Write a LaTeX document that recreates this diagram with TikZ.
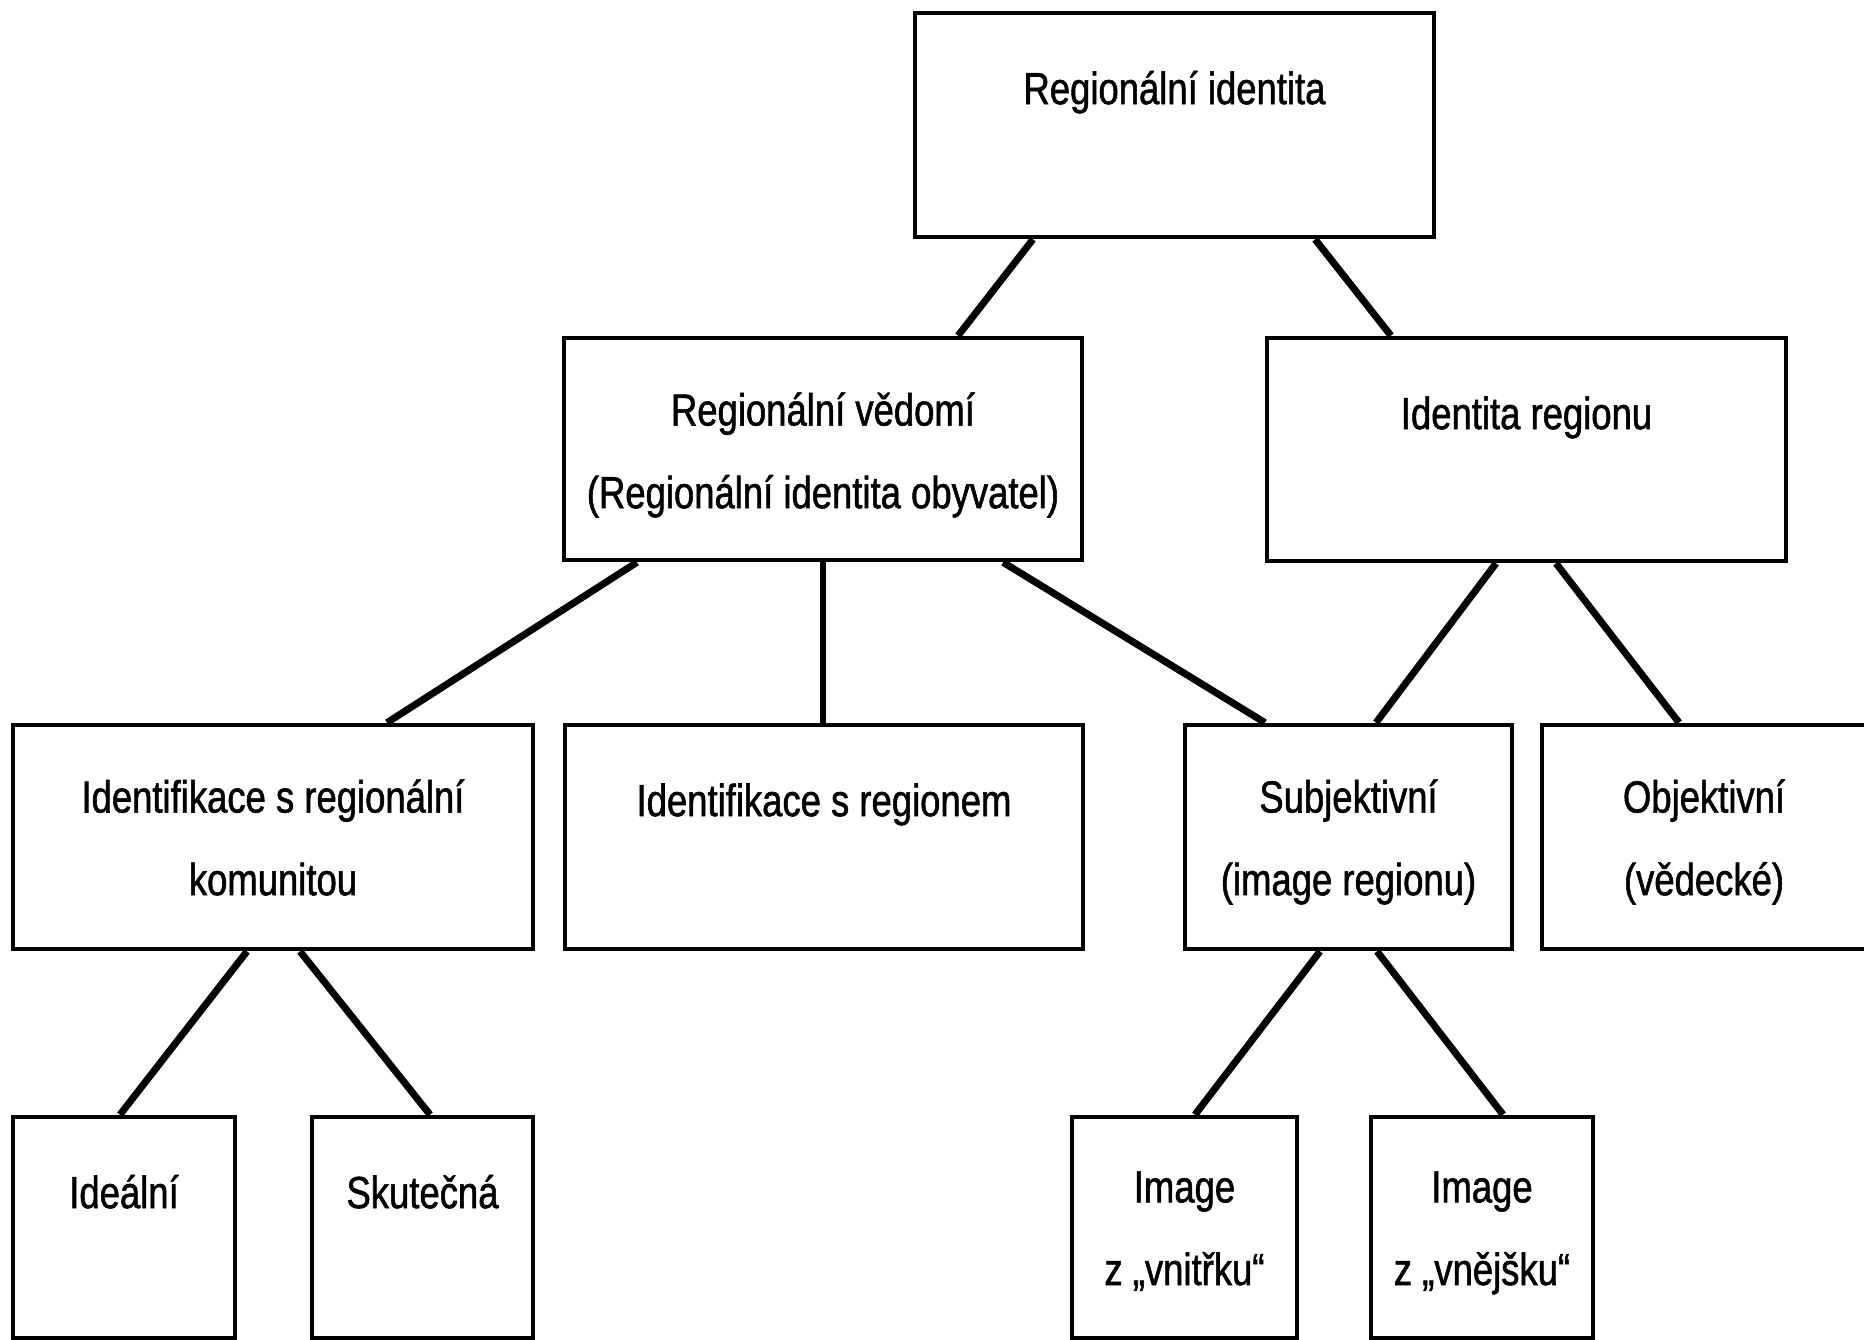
\documentclass[tikz,border=0pt]{standalone}
\usepackage{fontspec}
\setmainfont[FakeStretch=0.81,FakeBold=1.2]{Liberation Sans}
\tikzset{
  box/.style={draw, line width=1.3pt, inner sep=0pt, minimum height=2.24cm},
  txt/.style={anchor=north, align=center, inner sep=0pt, yshift=-0.47cm,
    font=\fontsize{12.8}{23.5}\selectfont, execute at begin node=\rule{0pt}{13pt}},
  txtm/.style={txt, yshift=-0.09cm},
  con/.style={line width=2pt}
}
\begin{document}
\begin{tikzpicture}[x=0.01cm,y=-0.01cm]
\useasboundingbox (0,0) rectangle (1864,1340);
\node[box, minimum width=5.19cm, label={[txt]north:Regionální identita}] (ri) at (1174.5,125) {};
\node[box, minimum width=5.18cm, minimum height=2.22cm, label={[txtm]north:{Regionální vědomí\\(Regionální identita obyvatel)}}] (rv) at (823,449) {};
\node[box, minimum width=5.19cm, minimum height=2.23cm, label={[txt]north:Identita regionu}] (idr) at (1526.5,449.5) {};
\node[box, minimum width=5.20cm, label={[txtm]north:{Identifikace s regionální\\komunitou}}] (iko) at (273,837) {};
\node[box, minimum width=5.18cm, label={[txt]north:Identifikace s regionem}] (ire) at (824,837) {};
\node[box, minimum width=3.27cm, label={[txtm]north:{Subjektivní\\(image regionu)}}] (sub) at (1348.5,837) {};
\node[box, minimum width=3.24cm, label={[txtm]north:{Objektivní\\(vědecké)}}] (obj) at (1704,837) {};
\node[box, minimum width=2.22cm, minimum height=2.21cm, label={[txt]north:Ideální}] (ide) at (124,1227.5) {};
\node[box, minimum width=2.21cm, minimum height=2.21cm, label={[txt]north:Skutečná}] (sku) at (422.5,1227.5) {};
\node[box, minimum width=2.25cm, minimum height=2.21cm, label={[txtm]north:{Image\\z „vnitřku“}}] (vni) at (1184.5,1227.5) {};
\node[box, minimum width=2.22cm, minimum height=2.21cm, label={[txtm]north:{Image\\z „vnějšku“}}] (vne) at (1482,1227.5) {};
\draw[con] ([xshift=-1.415cm]ri.south) -- ([xshift=1.35cm]rv.north);
\draw[con] ([xshift=1.405cm]ri.south) -- ([xshift=-1.355cm]idr.north);
\draw[con] ([xshift=-1.86cm]rv.south) -- ([xshift=1.14cm]iko.north);
\draw[line width=1.5pt] (rv.south) -- (rv.south |- ire.north);
\draw[con] ([xshift=1.8cm]rv.south) -- ([xshift=-0.835cm]sub.north);
\draw[con] ([xshift=-0.305cm]idr.south) -- ([xshift=0.275cm]sub.north);
\draw[con] ([xshift=0.295cm]idr.south) -- ([xshift=-0.25cm]obj.north);
\draw[con] ([xshift=-0.26cm]iko.south) -- ([xshift=-0.04cm]ide.north);
\draw[con] ([xshift=0.27cm]iko.south) -- ([xshift=0.075cm]sku.north);
\draw[con] ([xshift=-0.285cm]sub.south) -- ([xshift=0.105cm]vni.north);
\draw[con] ([xshift=0.285cm]sub.south) -- ([xshift=0.21cm]vne.north);
\end{tikzpicture}
\end{document}
